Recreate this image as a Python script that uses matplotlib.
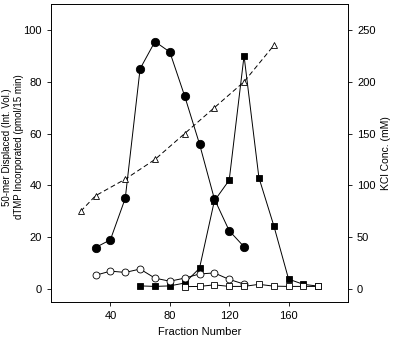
import matplotlib
matplotlib.use("Agg")
import matplotlib.pyplot as plt

plt.rcParams["font.family"] = ["Liberation Sans", "DejaVu Sans"]

# Data
frac_dtmp = [30, 40, 50, 60, 70, 80, 90, 100, 110, 120, 130]
dtmp = [16, 19, 35, 85, 95.5, 91.5, 74.5, 56, 34.8, 22.5, 16.3]

frac_mer = [60, 70, 80, 90, 100, 110, 120, 130, 140, 150, 160, 170, 180]
mer = [1.2, 1.0, 1.2, 2.3, 8, 34, 42, 90, 43, 24.5, 3.8, 1.8, 1.1]

frac_dtmp_ctl = [30, 40, 50, 60, 70, 80, 90, 100, 110, 120, 130]
dtmp_ctl = [5.3, 6.9, 6.4, 7.7, 4.2, 3.0, 4.2, 5.8, 6.2, 3.7, 1.9]

frac_mer_ctl = [90, 100, 110, 120, 130, 140, 150, 160, 170, 180]
mer_ctl = [0.9, 1.0, 1.6, 1.0, 1.0, 1.8, 1.1, 1.0, 1.0, 1.0]

frac_kcl = [20, 30, 50, 70, 90, 110, 130, 150]
kcl = [75, 90, 106, 125, 150, 175, 200, 235]

fig = plt.figure(figsize=(4.0, 3.37), dpi=100)
ax = fig.add_axes([0.1275, 0.104, 0.7425, 0.884])

lw = 0.7
mew = 0.6
ax.plot(frac_dtmp, dtmp, "-o", color="black", lw=lw, ms=6, mfc="black", mew=mew)
ax.plot(frac_mer, mer, "-s", color="black", lw=lw, ms=4.3, mfc="black", mew=mew)
ax.plot(frac_dtmp_ctl, dtmp_ctl, "-o", color="black", lw=lw, ms=5, mfc="white", mew=mew)
ax.plot(frac_mer_ctl, mer_ctl, "-s", color="black", lw=lw, ms=4.3, mfc="white", mew=mew)

ax.set_xlim(0, 200)
ax.set_ylim(-5, 110)
ax.set_xticks([40, 80, 120, 160])
ax.set_yticks([0, 20, 40, 60, 80, 100])
ax.tick_params(labelsize=8, direction="out", length=3, width=0.6)
ax.set_xlabel("Fraction Number", fontsize=8)
ax.set_ylabel("50-mer Displaced (Int. Vol.)\ndTMP Incorporated (pmol/15 min)",
              fontsize=7, linespacing=1.25, va="center")
ax.yaxis.set_label_coords(-0.128, 0.52)

ax2 = ax.twinx()
ax2.plot(frac_kcl, kcl, "--^", color="black", lw=lw, ms=5, mfc="white", mew=mew, dashes=(5, 3))
ax2.set_ylim(-12.5, 275)
ax2.set_yticks([0, 50, 100, 150, 200, 250])
ax2.tick_params(labelsize=8, direction="out", length=3, width=0.6)
ax2.set_ylabel("KCl Conc. (mM)", fontsize=7.5)

for a in (ax, ax2):
    for s in a.spines.values():
        s.set_linewidth(0.6)

fig.savefig("out.png", dpi=100)
plt.close(fig)
